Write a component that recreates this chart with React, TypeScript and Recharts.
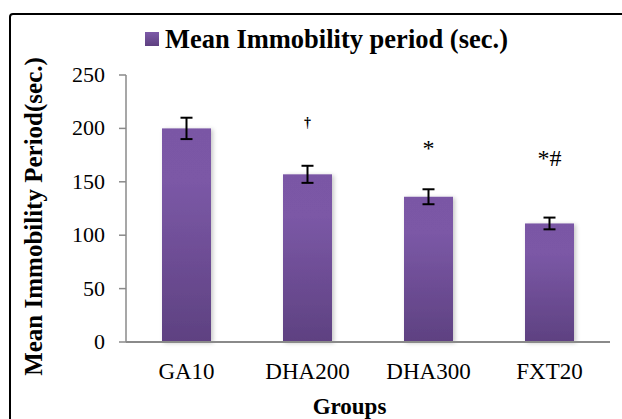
import React from 'react';
import { ComposedChart, Bar, XAxis, YAxis, ErrorBar, Scatter, Legend } from 'recharts';

const groups = ['GA10', 'DHA200', 'DHA300', 'FXT20'];
const meanValues = [200, 157, 136, 111];
const semValues = [10, 8, 7, 5.5];
const marks = ['', '†', '*', '*#'];
const markY = [null, 201, 174, 165];
const yTicks = [0, 50, 100, 150, 200, 250];

const data = groups.map((g, i) => ({
  group: g,
  mean: meanValues[i],
  err: semValues[i],
  mark: marks[i],
  markY: markY[i],
}));

const FONT = '"Liberation Serif", "Times New Roman", Times, serif';

const YTick = (props: any) => {
  const { x, y, payload } = props;
  return (
    <text x={x} y={y} dy={7} textAnchor="end" fontSize={22} fontFamily={FONT} fill="#000">
      {payload.value}
    </text>
  );
};

const XTick = (props: any) => {
  const { x, y, payload } = props;
  return (
    <text x={x} y={y} dy={36.5} textAnchor="middle" fontSize={23} fontFamily={FONT} fill="#000">
      {payload.value}
    </text>
  );
};

const MarkShape = (props: any) => {
  const { cx, cy, payload } = props;
  if (!payload || !payload.mark || !isFinite(cx) || !isFinite(cy)) return <g />;
  const small = payload.mark === '†';
  return (
    <text
      x={cx}
      y={cy}
      textAnchor="middle"
      fontSize={small ? 14 : 24}
      fontWeight={small ? 'bold' : 'normal'}
      fontFamily={FONT}
      fill="#000"
    >
      {payload.mark}
    </text>
  );
};

const BarShape = (props: any) => {
  const { x, y, width, height } = props;
  return <rect x={x} y={y} width={width} height={height} fill="url(#barGrad)" filter="url(#barShadow)" />;
};

const renderLegend = () => (
  <div
    style={{
      display: 'flex',
      alignItems: 'center',
      height: 30,
      fontFamily: FONT,
      fontWeight: 'bold',
      fontSize: 26.5,
      lineHeight: '30px',
      color: '#000',
      whiteSpace: 'nowrap',
    }}
  >
    <span
      style={{
        display: 'inline-block',
        width: 14,
        height: 14,
        background: 'linear-gradient(#7d5aa8, #5e4080)',
        marginRight: 6,
      }}
    />
    <span>Mean Immobility period (sec.)</span>
  </div>
);

const YTitle = () => (
  <text
    x={42}
    y={216.5}
    transform="rotate(-90, 42, 216.5)"
    textAnchor="middle"
    fontSize={25}
    fontWeight="bold"
    fontFamily={FONT}
    fill="#000"
  >
    Mean Immobility Period(sec.)
  </text>
);

const XTitle = () => (
  <text x={349.5} y={414} textAnchor="middle" fontSize={23} fontWeight="bold" fontFamily={FONT} fill="#000">
    Groups
  </text>
);

export default function App() {
  return (
    <div
      style={{
        position: 'absolute',
        left: 0,
        top: 0,
        width: 622,
        height: 419,
        overflow: 'hidden',
        background: '#fff',
      }}
    >
      <div
        style={{
          position: 'absolute',
          left: 9,
          top: 13,
          width: 700,
          height: 500,
          border: '2px solid #000',
          borderRadius: 4,
          boxSizing: 'border-box',
        }}
      />
      <div style={{ position: 'absolute', left: 0, top: 0 }}>
        <ComposedChart
          width={622}
          height={419}
          data={data}
          margin={{ top: 75, right: 12, bottom: 0, left: 0 }}
        >
          <defs>
            <linearGradient id="barGrad" x1="0" y1="0" x2="0" y2="1">
              <stop offset="0%" stopColor="#7a57a5" />
              <stop offset="25%" stopColor="#7b58a6" />
              <stop offset="100%" stopColor="#5e4181" />
            </linearGradient>
            <filter id="barShadow" x="-20%" y="-10%" width="140%" height="120%">
              <feDropShadow dx="2" dy="1" stdDeviation="2" floodColor="#000" floodOpacity="0.22" />
            </filter>
          </defs>
          <Legend
            verticalAlign="middle"
            align="center"
            layout="horizontal"
            content={renderLegend}
            wrapperStyle={{ top: 24, left: 145, width: 'auto', height: 30 }}
          />
          <XAxis
            dataKey="group"
            height={77}
            axisLine={{ stroke: '#8a8a8a', strokeWidth: 2 }}
            tickLine={false}
            tickSize={0}
            tickMargin={0}
            tick={<XTick />}
            interval={0}
            label={{ content: XTitle }}
          />
          <YAxis
            width={126}
            domain={[0, 250]}
            ticks={yTicks}
            interval={0}
            axisLine={{ stroke: '#8a8a8a', strokeWidth: 1.5 }}
            tickLine={{ stroke: '#8a8a8a', strokeWidth: 1.5 }}
            tickSize={7}
            tickMargin={14}
            tick={<YTick />}
            label={{ content: YTitle }}
          />
          <Bar dataKey="mean" barSize={49} shape={<BarShape />} isAnimationActive={false} legendType="square">
            <ErrorBar dataKey="err" width={6} stroke="#000" strokeWidth={2} />
          </Bar>
          <Scatter dataKey="markY" shape={<MarkShape />} isAnimationActive={false} legendType="none" />
        </ComposedChart>
      </div>
    </div>
  );
}
